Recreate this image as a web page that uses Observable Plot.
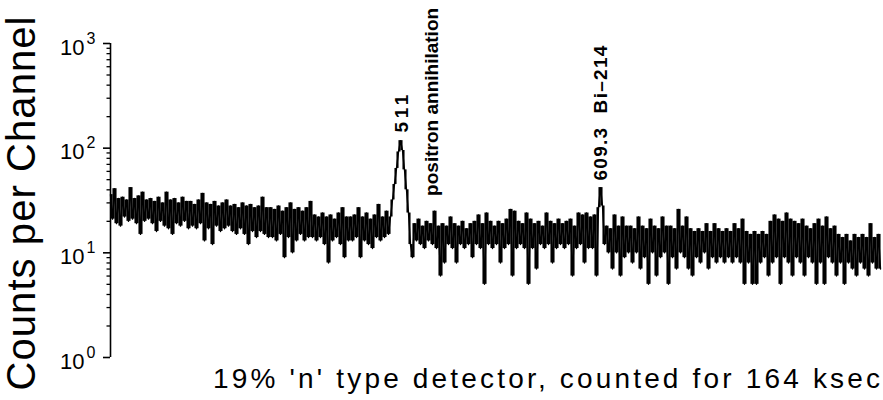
<!DOCTYPE html>
<html><head><meta charset="utf-8">
<script src="https://cdn.jsdelivr.net/npm/d3@7"></script>
<script src="https://cdn.jsdelivr.net/npm/@observablehq/plot@0.6"></script>
<style>body{margin:0;background:#fff} svg{display:block}</style>
</head><body><div id="chart"></div>
<script>
// counts per channel (one value every ~2 px)
const counts = [
  36, 21, 41, 19, 33, 18, 34, 22, 32, 20, 42, 21, 33, 19, 35, 15, 38, 20, 32, 21,
  33, 19, 31, 16, 34, 20, 30, 18, 38, 17, 32, 15, 33, 19, 30, 18, 34, 20, 31, 17,
  31, 18, 29, 17, 32, 19, 37, 13, 30, 17, 29, 12, 31, 18, 28, 16, 30, 17, 32, 18,
  28, 16, 29, 15, 27, 17, 30, 15, 28, 12, 29, 16, 27, 14, 28, 16, 34, 15, 27, 14,
  27, 14, 26, 13, 28, 15, 25, 9, 27, 14, 30, 10, 26, 13, 27, 15, 25, 13, 27, 14,
  31, 14, 23, 13, 22, 14, 24, 12, 22, 8, 23, 13, 21, 14, 24, 12, 27, 9, 22, 13,
  22, 13, 23, 14, 27, 9, 22, 13, 24, 12, 21, 11, 23, 14, 29, 13, 22, 14, 25, 15,
  22, 32, 45, 64, 92, 118, 95, 62, 40, 24, 12, 9, 19, 13, 21, 12, 18, 11, 20, 13,
  19, 12, 25, 11, 18, 6, 19, 8, 18, 12, 22, 11, 19, 8, 18, 12, 20, 11, 17, 12,
  19, 9, 20, 12, 23, 11, 19, 5, 24, 12, 20, 11, 18, 12, 20, 8, 19, 11, 21, 12,
  26, 6, 25, 11, 20, 12, 19, 11, 24, 5, 21, 11, 19, 7, 20, 12, 18, 11, 24, 12,
  20, 8, 19, 11, 21, 12, 19, 11, 20, 12, 21, 6, 18, 11, 24, 12, 23, 8, 24, 11,
  22, 11, 23, 6, 27, 42, 28, 12, 18, 10, 17, 7, 23, 10, 18, 6, 22, 9, 18, 10,
  18, 8, 17, 10, 22, 7, 18, 9, 17, 5, 21, 10, 18, 6, 17, 9, 22, 10, 18, 5,
  18, 9, 17, 7, 26, 10, 18, 9, 22, 7, 17, 6, 16, 9, 17, 8, 16, 10, 19, 7,
  16, 9, 19, 8, 17, 9, 16, 8, 17, 9, 16, 8, 19, 9, 17, 8, 21, 5, 16, 8,
  15, 5, 16, 5, 15, 8, 16, 9, 15, 6, 20, 8, 23, 9, 21, 5, 20, 9, 24, 8,
  21, 6, 20, 9, 19, 8, 21, 6, 18, 9, 17, 8, 19, 5, 21, 8, 18, 5, 22, 9,
  17, 8, 18, 6, 15, 8, 14, 5, 15, 8, 13, 7, 15, 6, 14, 8, 15, 7, 14, 6,
  19, 8, 14, 7, 15, 7
];

const decades = [1, 10, 100, 1000];
const decadeBase = ["10", "10", "10", "10"];
const decadeExp = ["0", "1", "2", "3"];
const minorTicks = [2,3,4,5,6,7,8,9, 20,30,40,50,60,70,80,90, 200,300,400,500,600,700,800,900];

const annotText = ["511", "positron annihilation", "609.3  Bi\u2013214"];
const annotChannel = [145.5, 160.5, 245];
const annotCount = [141, 35, 49];

const yTitle = "Counts per Channel";
const caption = "19% 'n' type detector, counted for 164 ksec";

const annotations = annotText.map((t, i) => ({t, c: annotChannel[i], v: annotCount[i]}));
// vertical strokes that the trace travels between neighbouring channels
const strokes = counts.slice(1).map((v, i) => ({c: i + 0.5, a: counts[i], b: v}));

const chart = Plot.plot({
  width: 883,
  height: 400,
  marginTop: 43,
  marginBottom: 43,
  marginLeft: 110,
  marginRight: 3,
  style: {fontFamily: "'Liberation Sans', Arial, sans-serif", background: "white", color: "black"},
  x: {domain: [0, counts.length - 1], axis: null},
  y: {type: "log", domain: [1, 1000]},
  marks: [
    Plot.ruleX([0], {stroke: "black", strokeWidth: 1.6}),
    Plot.axisY(decades, {anchor: "left", tickSize: 7, tickFormat: () => "", label: null, strokeWidth: 1.6}),
    Plot.axisY(minorTicks, {anchor: "left", tickSize: 3.5, tickFormat: () => "", label: null, strokeWidth: 1.3}),
    Plot.text(decades, {x: () => 0, y: d => d, text: (d, i) => decadeBase[i], textAnchor: "end", dx: -26, dy: 4, fontSize: 22, fill: "black"}),
    Plot.text(decades, {x: () => 0, y: d => d, text: (d, i) => decadeExp[i], textAnchor: "end", dx: -15, dy: -5, fontSize: 16, fill: "black"}),
    Plot.ruleX(strokes, {x: "c", y1: "a", y2: "b", stroke: "black", strokeWidth: 2.1}),
    Plot.line(counts, {x: (d, i) => i, y: d => d, stroke: "black", strokeWidth: 1.4}),
    Plot.text(annotations, {x: "c", y: "v", text: "t", rotate: -90, textAnchor: "start", fontSize: 19, fontWeight: "bold", fill: "black", ariaDescription: "annot"}),
    Plot.text([yTitle], {frameAnchor: "left", rotate: -90, textAnchor: "middle", dx: -88, dy: 3, fontSize: 40, fill: "black", ariaDescription: "ytitle"}),
    Plot.text([caption], {frameAnchor: "bottom", textAnchor: "middle", dx: 51, dy: 30, fontSize: 28, fill: "black", ariaDescription: "caption"})
  ]
});

document.getElementById("chart").appendChild(chart);

const svg = d3.select(chart);
svg.selectAll('g[aria-description="caption"] text').attr("textLength", 667).attr("lengthAdjust", "spacing");
svg.selectAll('g[aria-description="ytitle"] text').attr("textLength", 374).attr("lengthAdjust", "spacing");
const annotLengths = [38, 188, 135];
svg.selectAll('g[aria-description="annot"] text').each(function(d, i) {
  d3.select(this).attr("textLength", annotLengths[i]).attr("lengthAdjust", "spacing");
});
</script>
</body></html>
